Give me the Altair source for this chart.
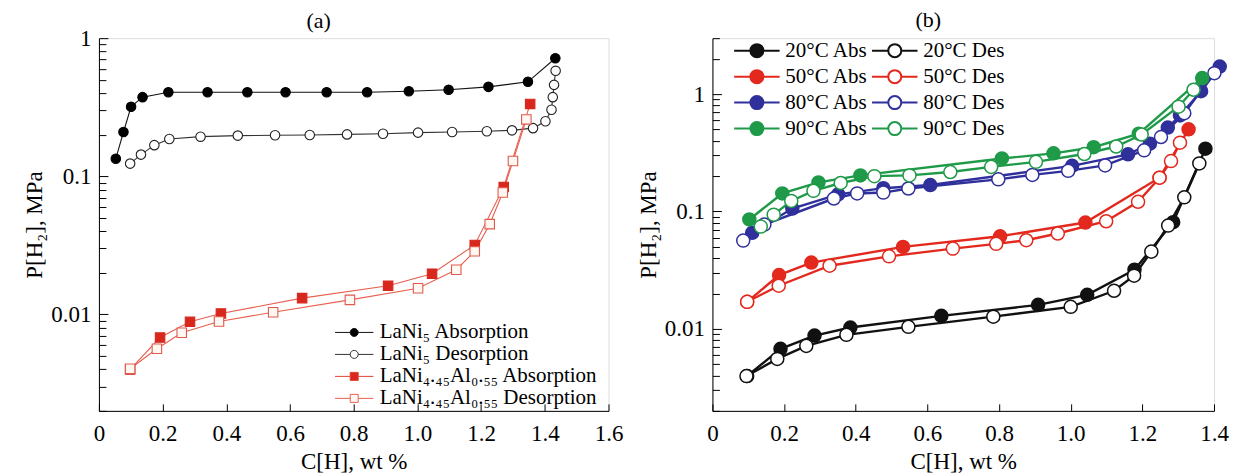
import altair as alt
import pandas as pd

FONT = "Liberation Serif"

# ---------------- panel (a) data ----------------
a_names = ["LaNi₅ Absorption", "LaNi₅ Desorption",
           "LaNi₄.₄₅Al₀.₅₅ Absorption", "LaNi₄.₄₅Al₀.₅₅ Desorption"]

a_lani5_abs_x = [0.053, 0.077, 0.101, 0.137, 0.218, 0.341, 0.466, 0.586, 0.715, 0.842,
                 0.973, 1.098, 1.223, 1.347, 1.433]
a_lani5_abs_p = [0.134, 0.209, 0.319, 0.374, 0.406, 0.406, 0.406, 0.406, 0.406, 0.406,
                 0.413, 0.423, 0.444, 0.483, 0.715]
a_lani5_des_x = [0.098, 0.132, 0.174, 0.221, 0.319, 0.436, 0.553, 0.662, 0.779, 0.892,
                 1.002, 1.109, 1.218, 1.297, 1.363, 1.402, 1.421, 1.425, 1.429, 1.434]
a_lani5_des_p = [0.1235, 0.1435, 0.168, 0.186, 0.1935, 0.197, 0.198, 0.199, 0.201, 0.203,
                 0.207, 0.209, 0.212, 0.215, 0.223, 0.250, 0.303, 0.374, 0.459, 0.580]
a_al_abs_x = [0.098, 0.192, 0.286, 0.383, 0.638, 0.908, 1.046, 1.180, 1.271, 1.354]
a_al_abs_p = [0.00399, 0.00679, 0.00883, 0.01014, 0.0131, 0.0161, 0.0197, 0.0318, 0.0837, 0.334]
a_al_des_x = [0.098, 0.182, 0.260, 0.377, 0.547, 0.788, 1.002, 1.122, 1.180, 1.227,
              1.268, 1.300, 1.342]
a_al_des_p = [0.00404, 0.00564, 0.00735, 0.00887, 0.01036, 0.01273, 0.01546, 0.02105,
              0.0286, 0.045, 0.0763, 0.129, 0.258]

# ---------------- panel (b) data ----------------
b_names = ["20°C Abs", "20°C Des", "50°C Abs", "50°C Des",
           "80°C Abs", "80°C Des", "90°C Abs", "90°C Des"]
# legend order (legend fills column by column)
b_legend_order = ["20°C Abs", "50°C Abs", "80°C Abs", "90°C Abs",
                  "20°C Des", "50°C Des", "80°C Des", "90°C Des"]

b20_abs_x = [0.097, 0.190, 0.285, 0.385, 0.639, 0.909, 1.046, 1.178, 1.286, 1.376]
b20_abs_p = [0.00396, 0.00675, 0.00877, 0.01026, 0.0129, 0.0160, 0.0195, 0.0319, 0.081, 0.343]
b20_des_x = [0.095, 0.181, 0.262, 0.374, 0.547, 0.784, 1.000, 1.121, 1.177, 1.225, 1.272,
             1.317, 1.359]
b20_des_p = [0.00396, 0.00554, 0.00716, 0.00889, 0.0104, 0.0127, 0.0154, 0.0211, 0.0284,
             0.0455, 0.0759, 0.132, 0.257]
b50_abs_x = [0.097, 0.186, 0.276, 0.532, 0.803, 1.041, 1.248, 1.329]
b50_abs_p = [0.0170, 0.0287, 0.0367, 0.0499, 0.0615, 0.0805, 0.194, 0.502]
b50_des_x = [0.097, 0.185, 0.327, 0.493, 0.671, 0.792, 0.876, 0.964, 1.099, 1.188, 1.248,
             1.280, 1.305]
b50_des_p = [0.0170, 0.0233, 0.0345, 0.0415, 0.0483, 0.053, 0.0569, 0.0649, 0.0826, 0.121,
             0.194, 0.269, 0.386]
b80_abs_x = [0.111, 0.223, 0.351, 0.477, 0.608, 1.004, 1.160, 1.221, 1.271, 1.305, 1.364, 1.416]
b80_abs_p = [0.0658, 0.106, 0.140, 0.158, 0.168, 0.245, 0.307, 0.378, 0.519, 0.658, 1.06, 1.72]
b80_des_x = [0.086, 0.145, 0.339, 0.404, 0.477, 0.547, 0.798, 0.893, 0.993, 1.096, 1.205,
             1.252, 1.317, 1.401]
b80_des_p = [0.0565, 0.0774, 0.129, 0.1425, 0.145, 0.157, 0.188, 0.205, 0.222, 0.247, 0.332,
             0.431, 0.688, 1.51]
b90_abs_x = [0.103, 0.195, 0.296, 0.413, 0.808, 0.952, 1.064, 1.190, 1.367]
b90_abs_p = [0.0855, 0.1425, 0.177, 0.203, 0.283, 0.313, 0.353, 0.460, 1.37]
b90_des_x = [0.135, 0.171, 0.220, 0.282, 0.358, 0.452, 0.550, 0.664, 0.778, 0.903, 1.038,
             1.127, 1.198, 1.301, 1.343]
b90_des_p = [0.0744, 0.094, 0.123, 0.150, 0.175, 0.200, 0.203, 0.217, 0.240, 0.265, 0.309,
             0.358, 0.453, 0.782, 1.09]

a_x_ticks = [0, 0.2, 0.4, 0.6, 0.8, 1.0, 1.2, 1.4, 1.6]
b_x_ticks = [0, 0.2, 0.4, 0.6, 0.8, 1.0, 1.2, 1.4]
y_major = [0.01, 0.1, 1]
a_y_minor = [0.002, 0.003, 0.004, 0.005, 0.006, 0.007, 0.008, 0.009,
             0.02, 0.03, 0.04, 0.05, 0.06, 0.07, 0.08, 0.09,
             0.2, 0.3, 0.4, 0.5, 0.6, 0.7, 0.8, 0.9]
b_y_minor = a_y_minor + [2, 3]


def make_df(names, xs_list, ps_list):
    frames = []
    for n, xs, ps in zip(names, xs_list, ps_list):
        frames.append(pd.DataFrame({"x": xs, "p": ps, "s": n}))
    return pd.concat(frames, ignore_index=True)


df_a = make_df(a_names,
               [a_lani5_abs_x, a_lani5_des_x, a_al_abs_x, a_al_des_x],
               [a_lani5_abs_p, a_lani5_des_p, a_al_abs_p, a_al_des_p])
df_b = make_df(b_names,
               [b20_abs_x, b20_des_x, b50_abs_x, b50_des_x, b80_abs_x, b80_des_x, b90_abs_x, b90_des_x],
               [b20_abs_p, b20_des_p, b50_abs_p, b50_des_p, b80_abs_p, b80_des_p, b90_abs_p, b90_des_p])


def circ_path(ext):
    return (f"M-{ext},0L-1,0M1,0L{ext},0"
            "M1,0A1,1,0,1,1,-1,0A1,1,0,1,1,1,0Z")


def sq_path(ext):
    return f"M-{ext},0L-1,0M1,0L{ext},0M-1,-1L1,-1L1,1L-1,1Z"


def panel(df, names, x_dom, x_vals, y_dom, y_minor, width, height, title, title_offset,
          line_colors, line_width, mk_shapes, mk_stroke, mk_fill, mk_size, mk_sw,
          leg_shapes, leg_stroke, legend):
    xs = alt.Scale(domain=x_dom, nice=False, zero=False)
    ys = alt.Scale(type="log", domain=y_dom, nice=False)
    x_main = alt.Axis(values=x_vals, labelExpr="datum.value == 0 ? '0' : format(datum.value, '.1f')",
                      ticks=False, grid=False, domainColor="black", domainWidth=1,
                      labelFont=FONT, labelFontSize=23, labelColor="black", labelPadding=12,
                      labelFlush=False, labelOverlap=False,
                      title="C[H], wt %", titleFont=FONT, titleFontSize=23, titleFontWeight="normal",
                      titleColor="black", titlePadding=5, orient="bottom")
    x_tick = alt.Axis(values=x_vals, labels=False, domain=False, grid=False, ticks=True,
                      tickSize=7, offset=-7, tickColor="black", tickWidth=1, title=None,
                      orient="bottom")
    y_main = alt.Axis(values=y_major, format="~g", ticks=False, grid=False, domainColor="black",
                      domainWidth=1, labelFont=FONT, labelFontSize=23, labelColor="black",
                      labelPadding=8, labelFlush=False, labelOverlap=False,
                      title="P[H₂], MPa", titleFont=FONT, titleFontSize=23,
                      titleFontWeight="normal", titleColor="black", titlePadding=4, orient="left")
    y_min_ax = alt.Axis(values=y_minor, labels=False, domain=False, grid=False, ticks=True,
                        tickSize=7, offset=-7, tickColor="black", tickWidth=1, title=None,
                        orient="left")
    y_maj_ax = alt.Axis(values=y_major, labels=False, domain=False, grid=False, ticks=True,
                        tickSize=9, offset=-9, tickColor="black", tickWidth=1, title=None,
                        orient="left")
    base = alt.Chart(df)
    lines = base.mark_line(strokeWidth=line_width).encode(
        x=alt.X("x:Q", scale=xs, axis=x_main),
        y=alt.Y("p:Q", scale=ys, axis=y_main),
        stroke=alt.Stroke("s:N", scale=alt.Scale(domain=names, range=line_colors), legend=None),
    )
    pts = base.mark_point(opacity=1, size=mk_size, strokeWidth=mk_sw).encode(
        x=alt.X("x:Q", scale=xs, axis=x_tick),
        y=alt.Y("p:Q", scale=ys, axis=y_min_ax),
        shape=alt.Shape("s:N", scale=alt.Scale(domain=names, range=mk_shapes), legend=None),
        stroke=alt.Stroke("s:N", scale=alt.Scale(domain=names, range=mk_stroke), legend=None),
        fill=alt.Fill("s:N", scale=alt.Scale(domain=names, range=mk_fill), legend=None),
    )
    leg = base.transform_filter("datum.x < -10").mark_point(opacity=1).encode(
        x=alt.X("x:Q", scale=xs, axis=None),
        y=alt.Y("p:Q", scale=ys, axis=y_maj_ax),
        shape=alt.Shape("s:N", scale=alt.Scale(domain=names, range=leg_shapes), legend=legend),
        stroke=alt.Stroke("s:N", scale=alt.Scale(domain=names, range=leg_stroke), legend=legend),
        fill=alt.Fill("s:N", scale=alt.Scale(domain=names, range=mk_fill), legend=legend),
    )
    return alt.layer(lines, pts, leg).resolve_scale(
        stroke="independent", fill="independent", shape="independent"
    ).resolve_axis(x="independent", y="independent").properties(
        width=width, height=height,
        title=alt.TitleParams(title, font=FONT, fontSize=22, fontWeight="normal", color="black",
                              offset=title_offset, anchor="middle", dx=-35),
    )


# ---------- panel (a) ----------
leg_a = alt.Legend(title=None, orient="none", legendX=245, legendY=284, labelFont=FONT,
                   labelFontSize=21, labelColor="black", labelLimit=500, symbolSize=64,
                   symbolStrokeWidth=1, labelOffset=15, rowPadding=0, padding=0,
                   direction="vertical")
red = "#d8281e"
salmon = "#e8604f"
panel_a = panel(
    df_a, a_names, [0, 1.6], a_x_ticks, [0.002, 1], a_y_minor, 510, 373, "(a)", -6,
    line_colors=["#111111", "#333333", salmon, salmon], line_width=1.1,
    mk_shapes=["circle", "circle", "square", "square"],
    mk_stroke=["#000000", "#222222", red, "#e05a4e"],
    mk_fill=["#000000", "#ffffff", red, "#fff8f2"], mk_size=90, mk_sw=1.1,
    leg_shapes=[circ_path(4.8), circ_path(4.8), sq_path(4.8), sq_path(4.8)],
    leg_stroke=["#111111", "#333333", "#e0402f", "#e8604f"], legend=leg_a,
)

# ---------- panel (b) ----------
c20, c50, c80, c90 = "#111111", "#e3281e", "#30309c", "#1f9a48"
b_color = {"20": c20, "50": c50, "80": c80, "90": c90}


def b_col(name):
    return b_color[name[:2]]


def b_fill(name):
    return b_col(name) if name.endswith("Abs") else "#ffffff"


leg_b = alt.Legend(title=None, orient="none", legendX=34, legendY=2, labelFont=FONT,
                   labelFontSize=21, labelColor="black", labelLimit=500, symbolSize=169,
                   symbolStrokeWidth=2, labelOffset=18, rowPadding=4, columnPadding=-1,
                   columns=2, padding=0)
panel_b = panel(
    df_b, b_legend_order, [0, 1.4], b_x_ticks, [0.002, 3], b_y_minor, 502, 373, "(b)", 5.5,
    line_colors=[b_col(n) for n in b_legend_order], line_width=2.4,
    mk_shapes=["circle"] * 8,
    mk_stroke=[b_col(n) for n in b_legend_order],
    mk_fill=[b_fill(n) for n in b_legend_order], mk_size=170, mk_sw=1.5,
    leg_shapes=[circ_path(3.5)] * 8,
    leg_stroke=[b_col(n) for n in b_legend_order], legend=leg_b,
)

chart = alt.hconcat(panel_a, panel_b, spacing=13).properties(
    padding={"left": 15, "top": 0, "right": 0, "bottom": 0}
).configure_view(stroke=None).configure(background="white")

chart.save("out.html", embed_options={"renderer": "svg", "actions": False})
